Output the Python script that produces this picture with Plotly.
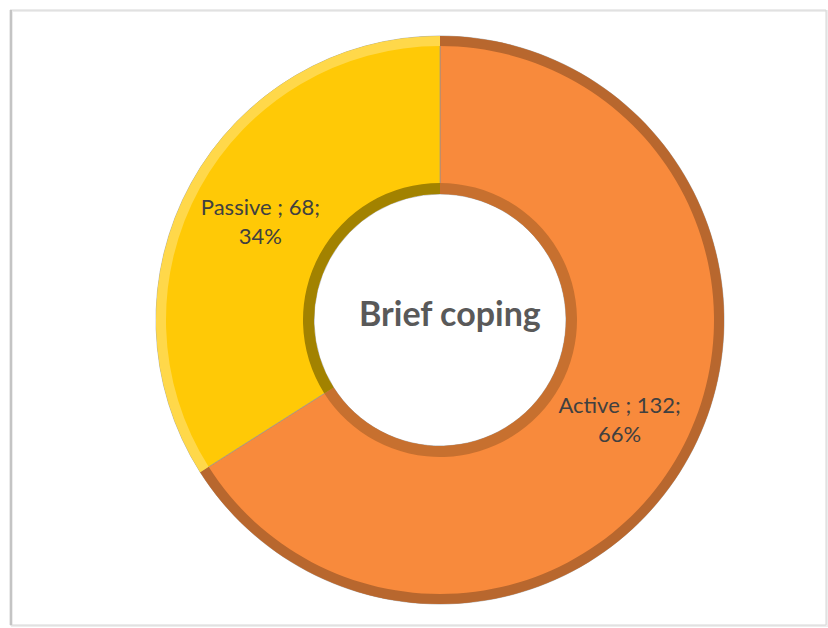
import plotly.graph_objects as go

# Brief coping styles
categories = ["Active", "Passive"]
counts = [132, 68]
slice_colors = ["#F88A3C", "#FFC906"]
outer_edge_colors = ["#B8672E", "#FFD84A"]
inner_edge_colors = ["#C7702F", "#A28200"]
center_title = "Brief coping"

W, H = 828, 628
cx, cy = 440, 320          # donut centre in pixels (from top-left)
R_OUT, R_IN = 284, 126     # outer radius, hole radius in pixels


def domain_for(r):
    """Paper-domain box of a circle of radius r pixels around the donut centre."""
    yb = H - cy
    return dict(x=[(cx - r) / W, (cx + r) / W], y=[(yb - r) / H, (yb + r) / H])


fig = go.Figure()

# main donut with the value labels
fig.add_trace(go.Pie(
    labels=categories, values=counts, sort=False, direction="clockwise", rotation=0,
    hole=R_IN / R_OUT, domain=domain_for(R_OUT),
    marker=dict(colors=slice_colors, line=dict(color="rgba(140,145,150,0.6)", width=1)),
    texttemplate="%{label} ; %{value};<br>%{percent:.0%}",
    textposition="inside", insidetextorientation="horizontal",
    textfont=dict(family="Lato, Open Sans, sans-serif", size=22, color="#404040"),
    showlegend=False, hoverinfo="label+value+percent",
))

# bevelled outer rim
fig.add_trace(go.Pie(
    labels=categories, values=counts, sort=False, direction="clockwise", rotation=0,
    hole=(R_OUT - 10) / R_OUT, domain=domain_for(R_OUT),
    marker=dict(colors=outer_edge_colors, line=dict(width=0)),
    textinfo="none", hoverinfo="skip", showlegend=False,
))

# bevelled rim around the hole
R_RIM = R_IN + 11
fig.add_trace(go.Pie(
    labels=categories, values=counts, sort=False, direction="clockwise", rotation=0,
    hole=R_IN / R_RIM, domain=domain_for(R_RIM),
    marker=dict(colors=inner_edge_colors, line=dict(width=0)),
    textinfo="none", hoverinfo="skip", showlegend=False,
))

# chart frame with a soft shadow
shapes = [
    dict(type="rect", xref="paper", yref="paper",
         x0=12 / W, x1=827 / W, y0=2 / H, y1=617 / H,
         line=dict(color="#EDEDED", width=2), fillcolor="rgba(0,0,0,0)", layer="below"),
    dict(type="rect", xref="paper", yref="paper",
         x0=10 / W, x1=826 / W, y0=3 / H, y1=618 / H,
         line=dict(color="#D6D6D6", width=1), fillcolor="rgba(0,0,0,0)", layer="below"),
    dict(type="line", xref="paper", yref="paper",
         x0=11 / W, x1=11 / W, y0=3 / H, y1=618 / H,
         line=dict(color="#C4C4C4", width=2)),
]

fig.update_layout(
    width=W, height=H,
    margin=dict(l=0, r=0, t=0, b=0),
    paper_bgcolor="white", plot_bgcolor="white",
    shapes=shapes,
    annotations=[dict(
        text=f"<b>{center_title}</b>", x=(cx + 10) / W, y=(H - cy + 8) / H,
        xref="paper", yref="paper", showarrow=False,
        font=dict(family="Lato, Open Sans, sans-serif", size=34, color="#595959"),
    )],
)

fig.write_html("out.html")
